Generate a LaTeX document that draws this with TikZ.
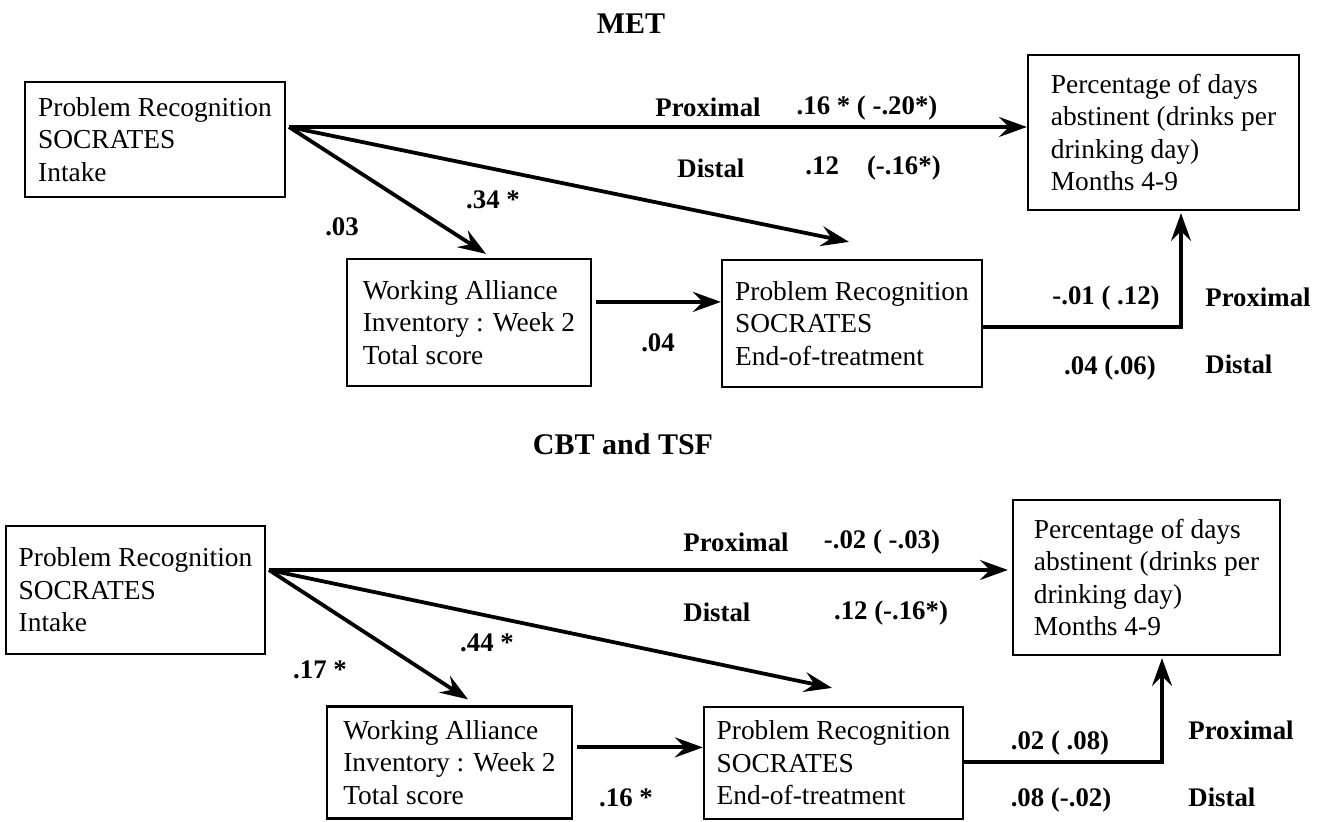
\documentclass[tikz,border=0pt]{standalone}
\usepackage{fontspec}
\setmainfont{Liberation Serif}
\usetikzlibrary{positioning,arrows.meta,calc}
\tikzset{
  var/.style={draw,line width=1.1pt,align=left,inner xsep=2pt,inner ysep=0pt},
  coef/.style={font=\fontsize{13.4}{16}\selectfont\bfseries,inner sep=0pt},
  ttl/.style={font=\fontsize{15}{18}\selectfont\bfseries,inner sep=0pt},
  arr/.style={-{Stealth[length=14pt,width=10pt,inset=5pt]},line width=1.9pt}
}

\begin{document}
\begin{tikzpicture}[x=0.5pt,y=-0.5pt,font=\fontsize{13.7}{16.3}\selectfont]
  \useasboundingbox (0,0) rectangle (1319,822);

  % MET
  \node[ttl] (met) at (631,24) {MET};
  \node[var,minimum width=130pt,minimum height=57.5pt] (a1) at (155,139.5) {Problem Recognition\\SOCRATES\\Intake};
  \node[var,minimum width=122pt,minimum height=63.5pt] (b1) at (469,322.5) {Working Alliance\\Inventory : Week 2\\Total score};
  \node[var,minimum width=130pt,minimum height=63.5pt] (c1) at (852,323.5) {Problem Recognition\\SOCRATES\\End-of-treatment};
  \node[var,minimum width=135.5pt,minimum height=77.5pt] (d1) at (1163.5,132.5) {Percentage of days\\abstinent (drinks per\\drinking day)\\Months 4-9};

  \coordinate (s1) at (289,127);
  \coordinate (w1) at ($(b1.north east)+(4,44)$);
  \coordinate (e1) at ($(c1.north east)+(0,68)$);
  \draw[arr] (s1) -- (s1 -| d1.west);
  \draw[arr] (s1) -- ($(b1.north)+(17,-4)$);
  \draw[arr] (s1) -- ($(c1.north)+(-3,-17)$);
  \draw[arr] (w1) -- (w1 -| c1.west);
  \draw[arr] (e1) -| ($(d1.south)+(17.5,2)$);

  \node[coef] (p1) at (708,107) {Proximal};
  \node[coef] (p1v) at (867,108) {.16 * ( -.20*)};
  \node[coef,anchor=west] (q1) at (677,168) {Distal};
  \node[coef,anchor=west] (q1v) at (805,168) {.12\hspace{1.05em}(-.16*)};
  \node[coef] (ab1) at (342,227) {.03};
  \node[coef] (ac1) at (493,200) {.34 *};
  \node[coef] (bc1) at (658,343) {.04};
  \node[coef] (cp1) at (1106,298) {-.01 ( .12)};
  \node[coef,anchor=west] (cp1l) at (1205,297) {Proximal};
  \node[coef] (cq1) at (1110,368) {.04 (.06)};
  \node[coef,anchor=west] (cq1l) at (1205,364) {Distal};

  % CBT and TSF
  \node[ttl] (cbt) at (623,444) {CBT and TSF};
  \node[var,minimum width=129.5pt,minimum height=64pt] (a2) at (135.5,590) {Problem Recognition\\SOCRATES\\Intake};
  \node[var,minimum width=122.5pt,minimum height=56pt] (b2) at (449.5,762.5) {Working Alliance\\Inventory : Week 2\\Total score};
  \node[var,minimum width=129.5pt,minimum height=56pt] (c2) at (833.5,763) {Problem Recognition\\SOCRATES\\End-of-treatment};
  \node[var,minimum width=133.5pt,minimum height=77.5pt] (d2) at (1146.5,577.5) {Percentage of days\\abstinent (drinks per\\drinking day)\\Months 4-9};

  \coordinate (s2) at (269,570);
  \coordinate (w2) at ($(b2.north east)+(4,42)$);
  \coordinate (e2) at ($(c2.north east)+(0,56)$);
  \draw[arr] (s2) -- ($(s2 -| d2.west)+(-4,0)$);
  \draw[arr] (s2) -- ($(b2.north)+(18.5,-6)$);
  \draw[arr] (s2) -- ($(c2.north)+(-1.5,-18)$);
  \draw[arr] (w2) -- (w2 -| c2.west);
  \draw[arr] (e2) -| ($(d2.south)+(15.5,2)$);

  \node[coef] (p2) at (736,542) {Proximal};
  \node[coef] (p2v) at (882,542) {-.02 ( -.03)};
  \node[coef,anchor=west] (q2) at (683,612) {Distal};
  \node[coef] (q2v) at (891,613) {.12 (-.16*)};
  \node[coef] (ab2) at (320,670) {.17 *};
  \node[coef] (ac2) at (487,643) {.44 *};
  \node[coef] (bc2) at (626,798) {.16 *};
  \node[coef] (cp2) at (1060,743) {.02 ( .08)};
  \node[coef,anchor=west] (cp2l) at (1188,730) {Proximal};
  \node[coef] (cq2) at (1061,800) {.08 (-.02)};
  \node[coef,anchor=west] (cq2l) at (1188,797) {Distal};
\end{tikzpicture}
\end{document}
